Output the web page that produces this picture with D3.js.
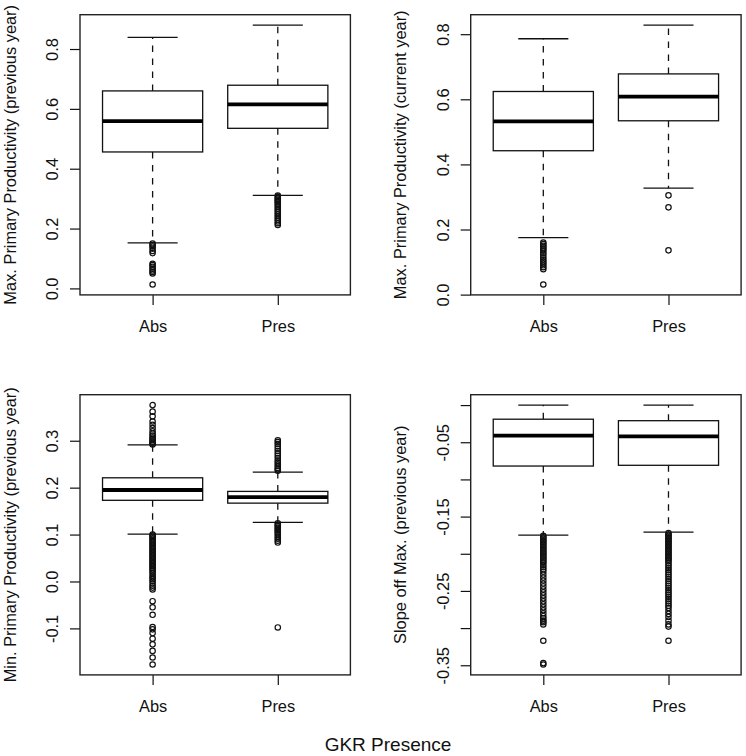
<!DOCTYPE html>
<html>
<head>
<meta charset="utf-8">
<script src="https://cdn.jsdelivr.net/npm/d3@7"></script>
<style>
  html, body { margin: 0; padding: 0; background: #fff; }
  svg { display: block; }
  text { font-family: "Liberation Sans", Arial, Helvetica, sans-serif; fill: #111; }
</style>
</head>
<body>
<svg id="chart" width="746" height="756"></svg>
<script>
// ---------------- DATA ----------------
const categories = ["Abs", "Pres"];
const xTitle = "GKR Presence";

// Panel 1: Max. Primary Productivity (previous year)
// stats per category: [lower whisker, Q1, median, Q3, upper whisker]
const maxPrevTitle = "Max. Primary Productivity (previous year)";
const maxPrevStats = [[0.152, 0.456, 0.559, 0.660, 0.839], [0.311, 0.535, 0.615, 0.679, 0.880]];
const maxPrevOutAbs = [0.150, 0.145, 0.140, 0.133, 0.125, 0.118, 0.082, 0.078, 0.072, 0.066, 0.060, 0.055, 0.050, 0.013];
const maxPrevOutPres = [0.310, 0.305, 0.300, 0.296, 0.292, 0.288, 0.283, 0.278, 0.272, 0.266, 0.260, 0.254, 0.248, 0.242, 0.236, 0.230, 0.224, 0.218, 0.212];
const maxPrevTicks = [0.0, 0.2, 0.4, 0.6, 0.8];
const maxPrevTickLabels = ["0.0", "0.2", "0.4", "0.6", "0.8"];

// Panel 2: Max. Primary Productivity (current year)
const maxCurTitle = "Max. Primary Productivity (current year)";
const maxCurStats = [[0.175, 0.442, 0.532, 0.624, 0.786], [0.327, 0.534, 0.608, 0.678, 0.828]];
const maxCurOutAbs = [0.160, 0.155, 0.150, 0.145, 0.140, 0.135, 0.128, 0.122, 0.115, 0.108, 0.102, 0.096, 0.090, 0.084, 0.078, 0.031];
const maxCurOutPres = [0.305, 0.268, 0.136];
const maxCurTicks = [0.0, 0.2, 0.4, 0.6, 0.8];
const maxCurTickLabels = ["0.0", "0.2", "0.4", "0.6", "0.8"];

// Panel 3: Min. Primary Productivity (previous year)
const minPrevTitle = "Min. Primary Productivity (previous year)";
const minPrevStats = [[0.101, 0.173, 0.195, 0.221, 0.291], [0.126, 0.167, 0.180, 0.192, 0.233]];
const minPrevOutAbs = [0.376, 0.362, 0.352, 0.341, 0.334, 0.327, 0.320, 0.315, 0.311, 0.307, 0.304, 0.301, 0.298, 0.296, 0.294, 0.292,
  0.100, 0.098, 0.095, 0.092, 0.089, 0.086, 0.083, 0.080, 0.077, 0.074, 0.071, 0.068, 0.065, 0.062, 0.059, 0.056, 0.053, 0.050,
  0.047, 0.044, 0.041, 0.038, 0.035, 0.032, 0.029, 0.026, 0.022, 0.018, 0.013, 0.009, 0.005, 0.001, -0.004, -0.009, -0.013, -0.017,
  -0.042, -0.055, -0.071, -0.097, -0.102, -0.110, -0.122, -0.134, -0.148, -0.162, -0.177];
const minPrevOutPres = [0.301, 0.297, 0.293, 0.288, 0.283, 0.278, 0.273, 0.268, 0.263, 0.258, 0.254, 0.250, 0.246, 0.242, 0.239, 0.236,
  0.124, 0.121, 0.118, 0.115, 0.112, 0.109, 0.106, 0.103, 0.099, 0.095, 0.091, 0.087, 0.083, -0.098];
const minPrevTicks = [-0.1, 0.0, 0.1, 0.2, 0.3];
const minPrevTickLabels = ["-0.1", "0.0", "0.1", "0.2", "0.3"];

// Panel 4: Slope off Max. (previous year)
const slopeTitle = "Slope off Max. (previous year)";
const slopeStats = [[-0.175, -0.082, -0.041, -0.019, 0.000], [-0.171, -0.081, -0.042, -0.021, 0.000]];
const slopeOutAbs = [-0.176, -0.178, -0.180, -0.182, -0.184, -0.186, -0.188, -0.190, -0.192, -0.194, -0.196, -0.198, -0.200,
  -0.202, -0.204, -0.206, -0.208, -0.210, -0.212, -0.215, -0.218, -0.221, -0.224,
  -0.228, -0.232, -0.236, -0.240, -0.244, -0.248, -0.252, -0.256, -0.260, -0.264, -0.268, -0.272, -0.276, -0.280, -0.284,
  -0.287, -0.290, -0.292, -0.295, -0.317, -0.347, -0.349];
const slopeOutPres = [-0.172, -0.174, -0.176, -0.178, -0.180, -0.182, -0.184, -0.186, -0.188, -0.190, -0.192, -0.194, -0.196,
  -0.198, -0.200, -0.202, -0.204, -0.206, -0.208, -0.210, -0.213, -0.216, -0.219, -0.222, -0.225, -0.228, -0.231, -0.234,
  -0.237, -0.240, -0.243, -0.246, -0.249, -0.252, -0.255, -0.258, -0.261, -0.264, -0.267, -0.270, -0.273, -0.277, -0.281,
  -0.285, -0.290, -0.295, -0.298, -0.317];
const slopeTicks = [0.0, -0.05, -0.10, -0.15, -0.20, -0.25, -0.30, -0.35];
const slopeTickLabels = ["", "-0.05", "", "-0.15", "", "-0.25", "", "-0.35"];

// ---------------- DRAW ----------------
const panels = [
  { title: maxPrevTitle, stats: maxPrevStats, outs: [maxPrevOutAbs, maxPrevOutPres], ticks: maxPrevTicks, labels: maxPrevTickLabels, col: 0, row: 0 },
  { title: maxCurTitle, stats: maxCurStats, outs: [maxCurOutAbs, maxCurOutPres], ticks: maxCurTicks, labels: maxCurTickLabels, col: 1, row: 0 },
  { title: minPrevTitle, stats: minPrevStats, outs: [minPrevOutAbs, minPrevOutPres], ticks: minPrevTicks, labels: minPrevTickLabels, col: 0, row: 1 },
  { title: slopeTitle, stats: slopeStats, outs: [slopeOutAbs, slopeOutPres], ticks: slopeTicks, labels: slopeTickLabels, col: 1, row: 1 }
];

const svg = d3.select("#chart");
const plotLefts = [80, 470.7];
const plotTops = [14.7, 394.7];
const plotW = 270.4;
const plotH = 280.2;
const fontSize = 16.4;
const ink = "#111";

panels.forEach(p => {
  const left = plotLefts[p.col], top = plotTops[p.row];
  const g = svg.append("g").attr("transform", `translate(${left},${top})`);

  // y domain like R: data extent extended by 4%
  const all = [].concat(...p.stats, ...p.outs);
  const [mn, mx] = d3.extent(all);
  const pad = (mx - mn) * 0.04;
  const y = d3.scaleLinear().domain([mn - pad, mx + pad]).range([plotH, 0]);
  const x = d3.scaleLinear().domain([0.42, 2.58]).range([0, plotW]);
  const halfBox = (x(1.4) - x(1.0));
  const halfCap = halfBox / 2;

  // y axis
  const yAxis = d3.axisLeft(y).tickValues(p.ticks).tickSize(10).tickFormat((d, i) => p.labels[i]);
  const ya = g.append("g").call(yAxis);
  ya.select(".domain").remove();
  ya.selectAll(".tick line").attr("stroke", ink).attr("stroke-width", 1.2);
  ya.selectAll(".tick text")
    .attr("x", null).attr("dy", null)
    .attr("transform", "translate(-22,0) rotate(-90)")
    .attr("text-anchor", "middle")
    .style("font-size", fontSize + "px")
    .style("font-family", '"Liberation Sans", Arial, sans-serif')
    .attr("fill", ink);

  // x axis
  const xAxis = d3.axisBottom(x).tickValues([1, 2]).tickSize(10).tickFormat((d, i) => categories[i]);
  const xa = g.append("g").attr("transform", `translate(0,${plotH})`).call(xAxis);
  xa.select(".domain").remove();
  xa.selectAll(".tick line").attr("stroke", ink).attr("stroke-width", 1.2);
  xa.selectAll(".tick text")
    .attr("y", 37).attr("dy", null)
    .style("font-size", fontSize + "px")
    .style("font-family", '"Liberation Sans", Arial, sans-serif')
    .attr("fill", ink);

  // boxes
  p.stats.forEach((s, i) => {
    const cx = x(i + 1);
    const [lo, q1, med, q3, hi] = s;
    const bg = g.append("g");
    // whiskers (dashed)
    bg.append("line").attr("x1", cx).attr("x2", cx).attr("y1", y(q1)).attr("y2", y(lo))
      .attr("stroke", ink).attr("stroke-width", 1.3).attr("stroke-dasharray", "6.5,6.5");
    bg.append("line").attr("x1", cx).attr("x2", cx).attr("y1", y(q3)).attr("y2", y(hi))
      .attr("stroke", ink).attr("stroke-width", 1.3).attr("stroke-dasharray", "6.5,6.5");
    // staples
    [lo, hi].forEach(v => {
      bg.append("line").attr("x1", cx - halfCap).attr("x2", cx + halfCap).attr("y1", y(v)).attr("y2", y(v))
        .attr("stroke", ink).attr("stroke-width", 1.3);
    });
    // box
    bg.append("rect").attr("x", cx - halfBox).attr("y", y(q3)).attr("width", 2 * halfBox).attr("height", y(q1) - y(q3))
      .attr("fill", "#fff").attr("stroke", ink).attr("stroke-width", 1.3);
    // median
    bg.append("line").attr("x1", cx - halfBox).attr("x2", cx + halfBox).attr("y1", y(med)).attr("y2", y(med))
      .attr("stroke", "#000").attr("stroke-width", 3.8);
    // outliers
    bg.selectAll("circle.out").data(p.outs[i]).enter().append("circle")
      .attr("class", "out").attr("cx", cx).attr("cy", d => y(d)).attr("r", 2.7)
      .attr("fill", "none").attr("stroke", ink).attr("stroke-width", 1.2);
  });

  // frame
  g.append("rect").attr("x", 0).attr("y", 0).attr("width", plotW).attr("height", plotH)
    .attr("fill", "none").attr("stroke", "#222").attr("stroke-width", 1.4);

  // y title
  g.append("text")
    .attr("transform", `translate(-64.5,${plotH / 2}) rotate(-90)`)
    .attr("text-anchor", "middle")
    .style("font-size", fontSize + "px")
    .text(p.title);
});

// outer x title
svg.append("text").attr("x", 388).attr("y", 751).attr("text-anchor", "middle")
  .style("font-size", "19px").text(xTitle);
</script>
</body>
</html>
